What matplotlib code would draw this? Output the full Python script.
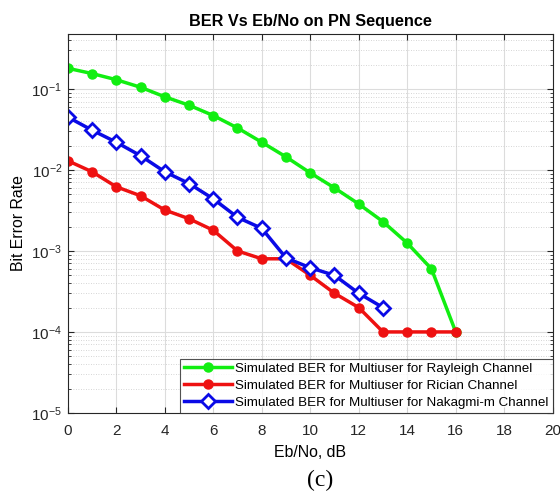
import matplotlib
matplotlib.use('Agg')
import matplotlib.pyplot as plt
from matplotlib.ticker import LogLocator, NullFormatter

# Eb/No values (dB)
snr_rayleigh = [0, 1, 2, 3, 4, 5, 6, 7, 8, 9, 10, 11, 12, 13, 14, 15, 16]
snr_rician = [0, 1, 2, 3, 4, 5, 6, 7, 8, 9, 10, 11, 12, 13, 14, 15, 16]
snr_nakagami = [0, 1, 2, 3, 4, 5, 6, 7, 8, 9, 10, 11, 12, 13]

# BER
ber_rayleigh = [0.18, 0.155, 0.13, 0.105, 0.08, 0.063, 0.047, 0.033, 0.022,
                0.0145, 0.0092, 0.006, 0.0038, 0.0023, 0.00125, 0.0006, 0.0001]
ber_rician = [0.013, 0.0095, 0.0062, 0.0048, 0.0032, 0.0025, 0.0018, 0.001,
              0.0008, 0.0008, 0.0005, 0.0003, 0.0002, 0.0001, 0.0001, 0.0001, 0.0001]
ber_nakagami = [0.045, 0.031, 0.022, 0.015, 0.0095, 0.0068, 0.0044, 0.0026,
                0.0019, 0.00082, 0.00062, 0.0005, 0.0003, 0.0002]

labels = ['Simulated BER for Multiuser for Rayleigh Channel',
          'Simulated BER for Multiuser for Rician Channel',
          'Simulated BER for Multiuser for Nakagmi-m Channel']

plt.rcParams['font.family'] = ['Liberation Sans', 'DejaVu Sans']
plt.rcParams['axes.unicode_minus'] = False
plt.rcParams['mathtext.fontset'] = 'custom'
plt.rcParams['mathtext.rm'] = 'Liberation Sans'

fig = plt.figure(figsize=(5.6, 4.91), dpi=100)
ax = fig.add_axes([0.121, 0.159, 0.866, 0.772])

ax.semilogy(snr_rayleigh, ber_rayleigh, '-o', color='#11ee11', lw=2.5,
            ms=6.5, label=labels[0])
ax.semilogy(snr_rician, ber_rician, '-o', color='#ee1111', lw=2.5,
            ms=6.5, label=labels[1])
ax.semilogy(snr_nakagami, ber_nakagami, '-D', color='#0a0ae6', lw=2.5,
            ms=7, mfc='white', mew=2, label=labels[2])

ax.set_xlim(0, 20)
ax.set_ylim(1e-5, 10 ** -0.32)
ax.set_xticks(range(0, 21, 2))
ax.yaxis.set_major_locator(LogLocator(base=10, numticks=10))
ax.yaxis.set_minor_locator(LogLocator(base=10, subs=range(2, 10), numticks=20))
ax.yaxis.set_minor_formatter(NullFormatter())

ax.grid(True, which='major', color='#dcdcdc', lw=0.8)
ax.grid(True, which='minor', axis='y', color='#c8c8c8', lw=0.6, linestyle=(0, (1, 2)))
ax.set_axisbelow(True)

ax.tick_params(which='both', direction='in', top=True, right=True,
               labelsize=11, colors='#262626')
ax.tick_params(axis='x', pad=8)
ax.tick_params(axis='y', pad=4)
ax.tick_params(which='major', length=4)
ax.tick_params(which='minor', length=2)
for s in ax.spines.values():
    s.set_color('#262626')
    s.set_linewidth(0.8)

ax.set_title('BER Vs Eb/No on PN Sequence', fontsize=11.7, fontweight='bold', pad=6)
ax.set_xlabel('Eb/No, dB', fontsize=11.4, labelpad=5)
ax.set_ylabel('Bit Error Rate', fontsize=11.4, labelpad=4)

leg = ax.legend(loc='lower right', fontsize=9.6, numpoints=1, handlelength=3.6,
                frameon=True, fancybox=False, borderpad=0.3, labelspacing=0.35,
                handletextpad=0.25, borderaxespad=0.0)
leg.get_frame().set_edgecolor('#262626')
leg.get_frame().set_linewidth(0.8)

fig.text(0.572, 0.022, '(c)', family=['Liberation Serif', 'DejaVu Serif'],
         fontsize=17, ha='center', va='center')

fig.savefig('out.png', dpi=100)
